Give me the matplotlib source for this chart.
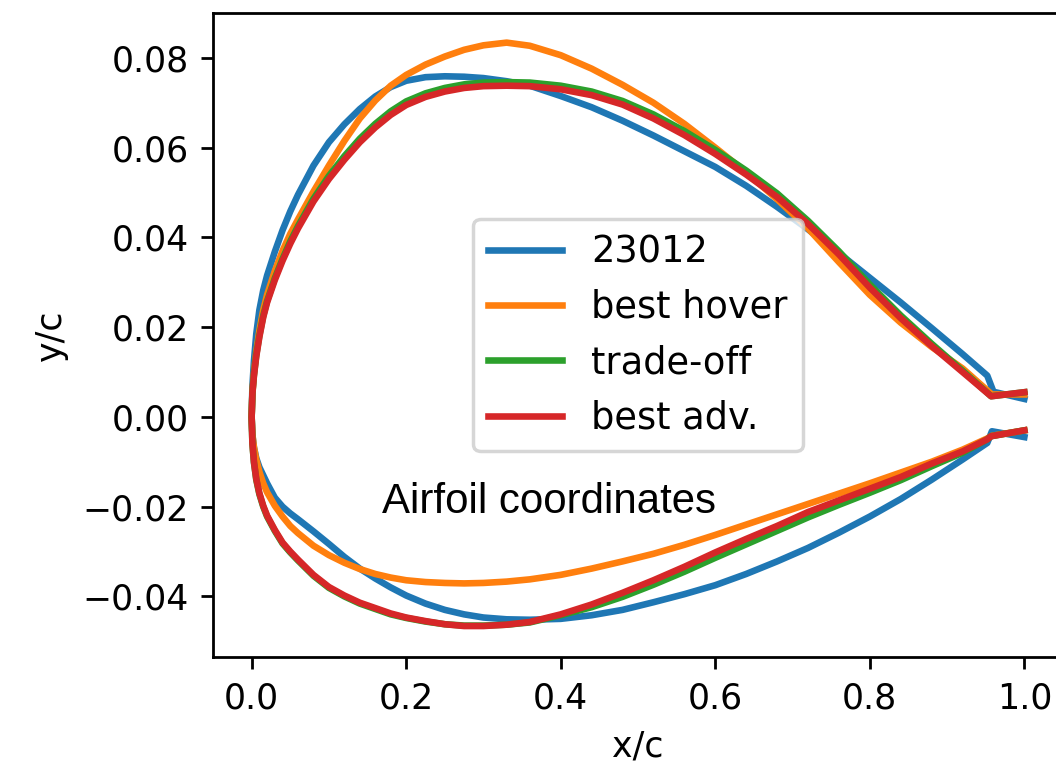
import numpy as np
import matplotlib
matplotlib.use('Agg')
import matplotlib.pyplot as plt

# chordwise stations shared by all surfaces (x/c)
x_st = [0.0, 0.001, 0.003, 0.006, 0.010, 0.015, 0.02, 0.03, 0.04, 0.05, 0.06, 0.08,
        0.10, 0.12, 0.14, 0.16, 0.18, 0.20, 0.225, 0.25, 0.275, 0.30, 0.33, 0.36,
        0.40, 0.44, 0.48, 0.52, 0.56, 0.60, 0.64, 0.68, 0.72, 0.76, 0.80, 0.84, 0.88, 0.92]

# NACA 23012
y_up_23012 = [0.0, 0.0068, 0.0125, 0.0185, 0.0238, 0.0282, 0.0315, 0.0368, 0.0416, 0.0458, 0.0495, 0.0560,
              0.0612, 0.0652, 0.0686, 0.0714, 0.0735, 0.0749, 0.0757, 0.0759, 0.0758, 0.0755, 0.0748, 0.0738,
              0.0715, 0.0690, 0.0660, 0.0627, 0.0592, 0.0557, 0.0515, 0.0468, 0.0418, 0.0365, 0.0310, 0.0255, 0.0198, 0.0140]
y_lo_23012 = [0.0, -0.0040, -0.0068, -0.0092, -0.0112, -0.0130, -0.0148, -0.0180, -0.0200, -0.0215, -0.0228, -0.0255,
              -0.0283, -0.0312, -0.0338, -0.0360, -0.0380, -0.0398, -0.0416, -0.0430, -0.0440, -0.0447, -0.0451, -0.0452,
              -0.0450, -0.0442, -0.0430, -0.0413, -0.0395, -0.0375, -0.0350, -0.0322, -0.0292, -0.0258, -0.0222, -0.0183, -0.0140, -0.0095]
te_up_23012 = ([0.952, 0.960, 1.0], [0.0092, 0.0056, 0.0040])
te_lo_23012 = ([0.952, 0.958, 1.0], [-0.0058, -0.0032, -0.0045])

# best hover
y_up_hover = [0.0, 0.0055, 0.0098, 0.0145, 0.0192, 0.0238, 0.0272, 0.0325, 0.0370, 0.0408, 0.0440, 0.0502,
              0.0560, 0.0615, 0.0665, 0.0705, 0.0738, 0.0762, 0.0785, 0.0803, 0.0818, 0.0828, 0.0834, 0.0827,
              0.0806, 0.0776, 0.0740, 0.0700, 0.0653, 0.0600, 0.0545, 0.0485, 0.0420, 0.0345, 0.0272, 0.0210, 0.0156, 0.0108]
y_lo_hover = [0.0, -0.0040, -0.0068, -0.0095, -0.0122, -0.0148, -0.0168, -0.0198, -0.0222, -0.0243, -0.0259, -0.0287,
              -0.0308, -0.0325, -0.0339, -0.0350, -0.0358, -0.0364, -0.0368, -0.0370, -0.0371, -0.0370, -0.0367, -0.0362,
              -0.0352, -0.0338, -0.0322, -0.0305, -0.0285, -0.0263, -0.0240, -0.0217, -0.0194, -0.0171, -0.0148, -0.0124, -0.0100, -0.0073]
te_up_hover = ([0.958, 1.0], [0.0050, 0.0050])
te_lo_hover = ([0.952, 0.958, 1.0], [-0.0048, -0.0042, -0.0030])

# trade-off
y_up_trade = [0.0, 0.0053, 0.0094, 0.0138, 0.0181, 0.0225, 0.0258, 0.0309, 0.0352, 0.0391, 0.0425, 0.0486,
              0.0537, 0.0581, 0.0620, 0.0653, 0.0681, 0.0703, 0.0721, 0.0733, 0.0741, 0.0745, 0.0746, 0.0745,
              0.0738, 0.0725, 0.0704, 0.0674, 0.0637, 0.0595, 0.0549, 0.0498, 0.0437, 0.0369, 0.0295, 0.0226, 0.0163, 0.0103]
y_lo_trade = [0.0, -0.0060, -0.0102, -0.0140, -0.0172, -0.0200, -0.0222, -0.0254, -0.0282, -0.0302, -0.0320, -0.0354,
              -0.0381, -0.0400, -0.0416, -0.0428, -0.0440, -0.0448, -0.0456, -0.0462, -0.0465, -0.0465, -0.0463, -0.0458,
              -0.0442, -0.0424, -0.0401, -0.0374, -0.0345, -0.0314, -0.0284, -0.0254, -0.0224, -0.0196, -0.0169, -0.0141, -0.0110, -0.0080]
te_up_trade = ([0.957, 1.0], [0.0046, 0.0055])
te_lo_trade = ([0.952, 0.957, 1.0], [-0.0050, -0.0043, -0.0030])

# best advance
y_up_adv = [0.0, 0.0052, 0.0092, 0.0135, 0.0178, 0.0222, 0.0255, 0.0305, 0.0348, 0.0386, 0.0420, 0.0480,
            0.0530, 0.0573, 0.0612, 0.0645, 0.0673, 0.0695, 0.0713, 0.0725, 0.0733, 0.0737, 0.0738, 0.0737,
            0.0730, 0.0717, 0.0696, 0.0665, 0.0628, 0.0586, 0.0540, 0.0490, 0.0430, 0.0362, 0.0288, 0.0220, 0.0158, 0.0100]
y_lo_adv = [0.0, -0.0058, -0.0100, -0.0138, -0.0170, -0.0198, -0.0220, -0.0252, -0.0280, -0.0300, -0.0318, -0.0352,
            -0.0379, -0.0398, -0.0414, -0.0426, -0.0438, -0.0447, -0.0455, -0.0462, -0.0466, -0.0466, -0.0463, -0.0457,
            -0.0440, -0.0418, -0.0392, -0.0364, -0.0334, -0.0302, -0.0272, -0.0243, -0.0212, -0.0186, -0.0160, -0.0134, -0.0104, -0.0077]
te_up_adv = ([0.957, 1.0], [0.0046, 0.0055])
te_lo_adv = ([0.952, 0.957, 1.0], [-0.0050, -0.0043, -0.0030])

airfoils = [
    ('23012', y_up_23012, y_lo_23012, te_up_23012, te_lo_23012),
    ('best hover', y_up_hover, y_lo_hover, te_up_hover, te_lo_hover),
    ('trade-off', y_up_trade, y_lo_trade, te_up_trade, te_lo_trade),
    ('best adv.', y_up_adv, y_lo_adv, te_up_adv, te_lo_adv),
]


def contour(yu, yl, te_up, te_lo):
    # upper surface TE -> LE, then lower surface LE -> TE
    xu = x_st + te_up[0]
    yu = yu + te_up[1]
    xl = x_st + te_lo[0]
    yl = yl + te_lo[1]
    return xu[::-1] + xl[1:], yu[::-1] + yl[1:]


fig = plt.figure(figsize=(1056 / 250, 774 / 250), dpi=250)
ax = fig.add_axes([213 / 1056, 117 / 774, 850 / 1056, 644 / 774])

for name, yu, yl, te_up, te_lo in airfoils:
    x, y = contour(yu, yl, te_up, te_lo)
    ax.plot(x, y, lw=1.9, label=name)

ax.set_xlim(-0.05, 1.05)
ax.set_ylim(-0.0535, 0.090)
ax.set_xticks([0.0, 0.2, 0.4, 0.6, 0.8, 1.0])
ax.set_yticks([-0.04, -0.02, 0.0, 0.02, 0.04, 0.06, 0.08])
ax.set_xlabel('x/c')
ax.set_ylabel('y/c')
ax.legend(loc='center', fontsize=10.6)
ax.text(0.3846, -0.0214, 'Airfoil coordinates', family='Liberation Sans',
        fontsize=12.1, ha='center', va='baseline')

fig.savefig('out.png', dpi=250)
